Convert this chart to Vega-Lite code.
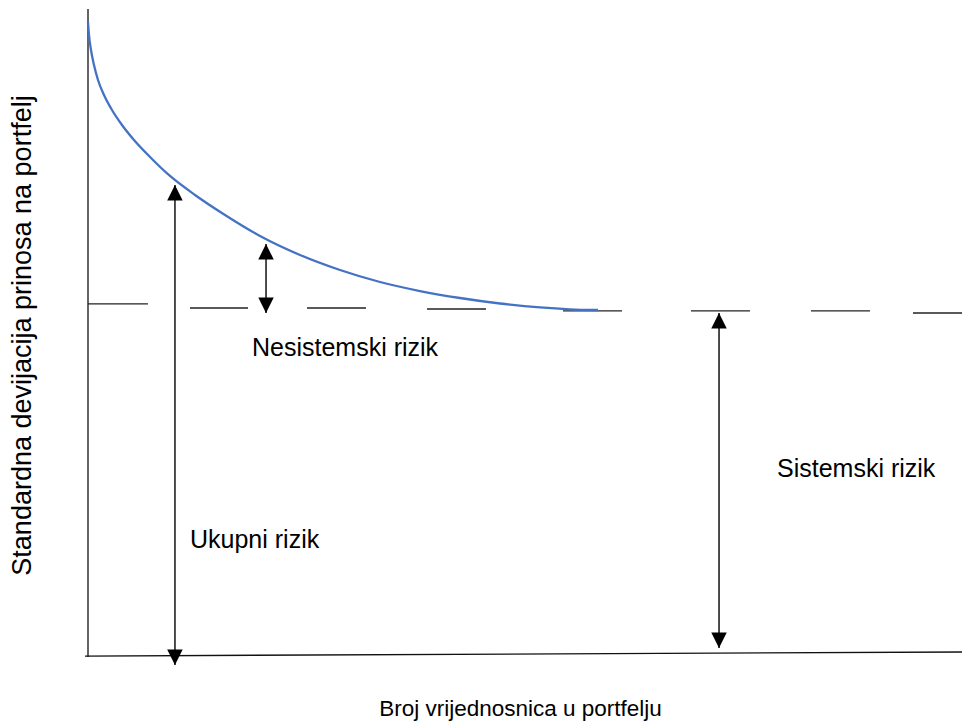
{
  "$schema": "https://vega.github.io/schema/vega-lite/v6.json",
  "width": 874,
  "height": 648,
  "autosize": "none",
  "padding": {"left": 88, "top": 9, "right": 0, "bottom": 65},
  "background": "white",
  "config": {"view": {"stroke": null}},
  "datasets": {
    "curve": [
      {"x": 0, "y": 97.99}, {"x": 0.114, "y": 95.99}, {"x": 0.343, "y": 93.67},
      {"x": 0.686, "y": 91.36}, {"x": 1.144, "y": 89.04}, {"x": 1.831, "y": 86.73},
      {"x": 2.746, "y": 84.41}, {"x": 3.89, "y": 82.1}, {"x": 5.263, "y": 79.78},
      {"x": 7.094, "y": 77.16}, {"x": 9.382, "y": 74.23}, {"x": 12.243, "y": 71.3},
      {"x": 15.675, "y": 68.21}, {"x": 19.68, "y": 64.97}, {"x": 24.256, "y": 62.04},
      {"x": 28.833, "y": 59.72}, {"x": 33.41, "y": 57.87}, {"x": 37.986, "y": 56.48},
      {"x": 42.563, "y": 55.4}, {"x": 47.14, "y": 54.55}, {"x": 51.716, "y": 53.94},
      {"x": 55.149, "y": 53.66}, {"x": 58.352, "y": 53.55}
    ],
    "dashes": [
      {"x": 0, "x2": 6.86, "y": 54.48, "y2": 54.48},
      {"x": 11.67, "x2": 18.31, "y": 53.86, "y2": 53.86},
      {"x": 25.06, "x2": 31.81, "y": 53.86, "y2": 53.86},
      {"x": 38.79, "x2": 45.54, "y": 53.7, "y2": 53.7},
      {"x": 54.35, "x2": 61.1, "y": 53.4, "y2": 53.4},
      {"x": 68.99, "x2": 75.74, "y": 53.4, "y2": 53.4},
      {"x": 82.72, "x2": 89.47, "y": 53.4, "y2": 53.4},
      {"x": 94.39, "x2": 100, "y": 53.09, "y2": 53.09}
    ],
    "axes": [
      {"x": 0, "x2": 0, "y": 0, "y2": 100},
      {"x": -0.34, "x2": 100, "y": 0.15, "y2": 0.77}
    ],
    "arrows": [
      {"name": "Ukupni rizik", "x": 9.95, "top": 72.84, "bottom": -1.23},
      {"name": "Nesistemski rizik", "x": 20.37, "top": 63.73, "bottom": 53.09},
      {"name": "Sistemski rizik", "x": 72.2, "top": 53.09, "bottom": 1.39}
    ],
    "labels": [
      {"label": "Nesistemski rizik", "x": 18.76, "y": 46.45},
      {"label": "Sistemski rizik", "x": 78.83, "y": 27.78},
      {"label": "Ukupni rizik", "x": 11.67, "y": 16.82}
    ]
  },
  "layer": [
    {
      "data": {"name": "axes"},
      "mark": {"type": "rule", "color": "#111111", "strokeWidth": 1.3},
      "encoding": {
        "x": {"field": "x", "type": "quantitative", "scale": {"domain": [0, 100], "nice": false, "zero": false}, "axis": {"title": "Broj vrijednosnica u portfelju", "domain": false, "ticks": false, "labels": false, "grid": false, "titleFont": "Liberation Sans", "titleFontSize": 22.5, "titleFontWeight": "normal", "titleColor": "#000000", "titleX": 432, "titleY": 51, "titleBaseline": "middle", "titleAlign": "center"}},
        "x2": {"field": "x2"},
        "y": {"field": "y", "type": "quantitative", "scale": {"domain": [0, 100], "nice": false, "zero": false}, "axis": {"title": "Standardna devijacija prinosa na portfelj", "domain": false, "ticks": false, "labels": false, "grid": false, "titleFont": "Liberation Sans", "titleFontSize": 27, "titleFontWeight": "normal", "titleColor": "#000000", "titleX": -66, "titleY": 326, "titleAngle": -90, "titleBaseline": "middle", "titleAlign": "center"}},
        "y2": {"field": "y2"}
      }
    },
    {
      "data": {"name": "dashes"},
      "mark": {"type": "rule", "color": "#222222", "strokeWidth": 1.3},
      "encoding": {
        "x": {"field": "x", "type": "quantitative"},
        "x2": {"field": "x2"},
        "y": {"field": "y", "type": "quantitative"},
        "y2": {"field": "y2"}
      }
    },
    {
      "data": {"name": "curve"},
      "mark": {"type": "line", "color": "#4472C4", "strokeWidth": 2.3, "interpolate": "monotone"},
      "encoding": {
        "x": {"field": "x", "type": "quantitative"},
        "y": {"field": "y", "type": "quantitative"}
      }
    },
    {
      "data": {"name": "arrows"},
      "mark": {"type": "rule", "color": "#000000", "strokeWidth": 1.4},
      "encoding": {
        "x": {"field": "x", "type": "quantitative"},
        "y": {"field": "top", "type": "quantitative"},
        "y2": {"field": "bottom"}
      }
    },
    {
      "data": {"name": "arrows"},
      "mark": {"type": "point", "shape": "M0,-1L1,1L-1,1Z", "filled": true, "color": "#000000", "opacity": 1, "size": 240, "yOffset": 7.7},
      "encoding": {
        "x": {"field": "x", "type": "quantitative"},
        "y": {"field": "top", "type": "quantitative"}
      }
    },
    {
      "data": {"name": "arrows"},
      "mark": {"type": "point", "shape": "M0,1L1,-1L-1,-1Z", "filled": true, "color": "#000000", "opacity": 1, "size": 240, "yOffset": -7.7},
      "encoding": {
        "x": {"field": "x", "type": "quantitative"},
        "y": {"field": "bottom", "type": "quantitative"}
      }
    },
    {
      "data": {"name": "labels"},
      "mark": {"type": "text", "align": "left", "baseline": "alphabetic", "font": "Liberation Sans", "fontSize": 25, "color": "#000000"},
      "encoding": {
        "x": {"field": "x", "type": "quantitative"},
        "y": {"field": "y", "type": "quantitative"},
        "text": {"field": "label"}
      }
    }
  ]
}
